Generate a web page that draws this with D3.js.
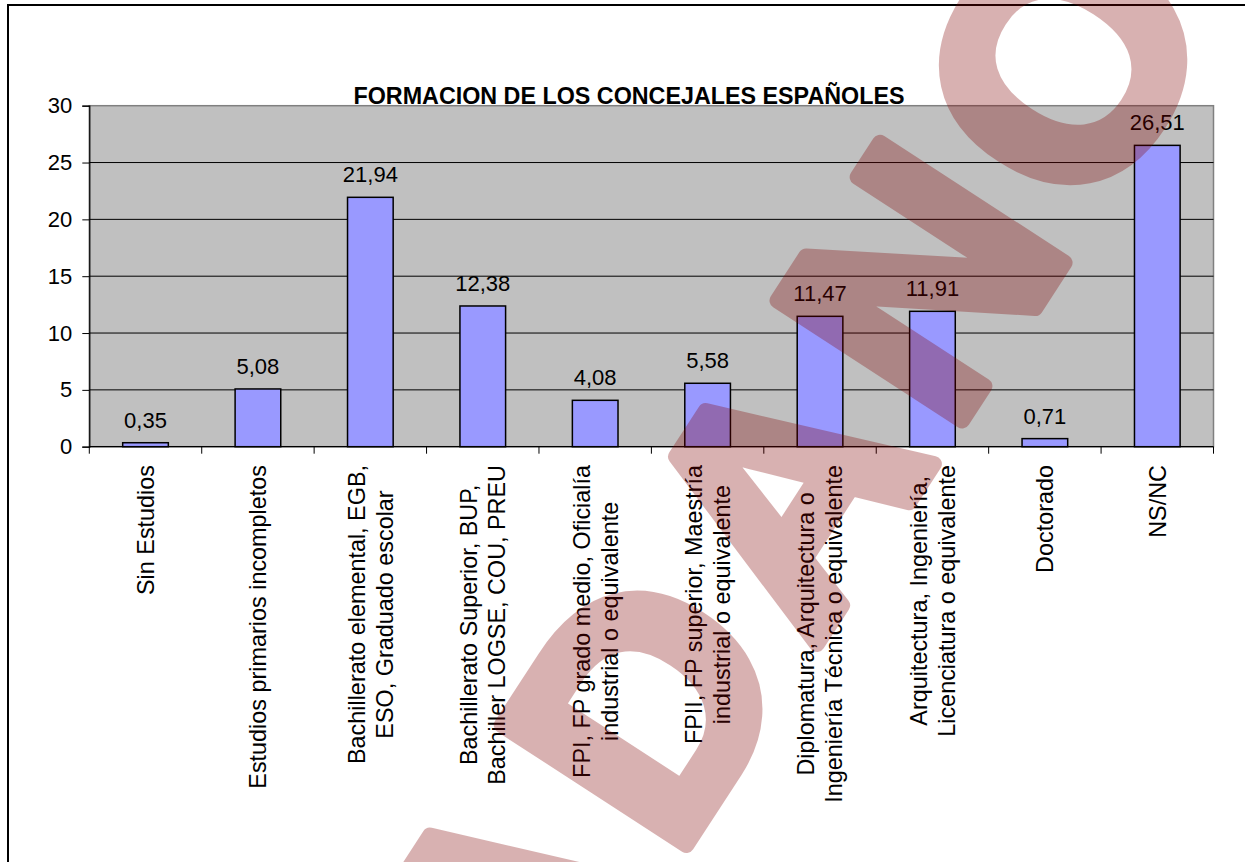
<!DOCTYPE html>
<html>
<head>
<meta charset="utf-8">
<script src="https://cdn.jsdelivr.net/npm/d3@7"></script>
<style>
  html, body { margin: 0; padding: 0; background: #fff; }
  svg { display: block; }
  text { font-family: Arial, "Liberation Sans", sans-serif; }
</style>
</head>
<body>
<script>
const categories = [
  "Sin Estudios",
  "Estudios primarios incompletos",
  "Bachillerato elemental, EGB,\nESO, Graduado escolar",
  "Bachillerato Superior, BUP,\nBachiller LOGSE, COU, PREU",
  "FPI, FP grado medio, Oficialía\nindustrial o equivalente",
  "FPII, FP superior, Maestría\nindustrial o equivalente",
  "Diplomatura, Arquitectura o\nIngeniería Técnica o equivalente",
  "Arquitectura, Ingeniería,\nLicenciatura o equivalente",
  "Doctorado",
  "NS/NC"
];
const values = [0.35, 5.08, 21.94, 12.38, 4.08, 5.58, 11.47, 11.91, 0.71, 26.51];
const yTicks = [0, 5, 10, 15, 20, 25, 30];
const title = "FORMACION DE LOS CONCEJALES ESPAÑOLES";
const watermark = "CIUDADANO";

const W = 1245, H = 862;
const plot = { left: 89.3, right: 1213.5, top: 105.7, bottom: 446.7 };

const svg = d3.select("body").append("svg").attr("width", W).attr("height", H);

// outer frame
svg.append("path")
  .attr("d", `M8,${H + 5}V5H${W + 5}`)
  .attr("fill", "none").attr("stroke", "#000").attr("stroke-width", 2);

const x = d3.scaleBand().domain(d3.range(categories.length))
  .range([plot.left, plot.right]).paddingInner(0.594).paddingOuter(0.297);
const xb = d3.scaleBand().domain(d3.range(categories.length))
  .range([plot.left, plot.right]);
const y = d3.scaleLinear().domain([0, 30]).range([plot.bottom, plot.top]);

// plot background
svg.append("rect")
  .attr("x", plot.left).attr("y", plot.top)
  .attr("width", plot.right - plot.left).attr("height", plot.bottom - plot.top)
  .attr("fill", "#C0C0C0").attr("stroke", "#808080").attr("stroke-width", 1.5);

// gridlines
svg.append("g").selectAll("line").data(yTicks.filter(d => d > 0 && d < 30)).join("line")
  .attr("x1", plot.left).attr("x2", plot.right)
  .attr("y1", d => y(d)).attr("y2", d => y(d))
  .attr("stroke", "#000").attr("stroke-width", 1);

// y axis
const yAxis = svg.append("g").attr("transform", `translate(${plot.left},0)`)
  .call(d3.axisLeft(y).tickValues(yTicks).tickSize(7).tickPadding(10).tickFormat(d3.format("d")));
yAxis.select(".domain").attr("stroke", "#000").attr("stroke-width", 1.2);
yAxis.selectAll(".tick line").attr("stroke", "#000");
yAxis.selectAll("text").attr("font-size", 22).attr("fill", "#000")
  .attr("font-family", "Arial, 'Liberation Sans', sans-serif");

// x axis
const xAxis = svg.append("g").attr("transform", `translate(0,${plot.bottom})`);
xAxis.append("line").attr("x1", plot.left).attr("x2", plot.right)
  .attr("stroke", "#000").attr("stroke-width", 1.2);
const bounds = d3.range(categories.length + 1).map(i => i < categories.length ? xb(i) : xb(i - 1) + xb.bandwidth());
xAxis.selectAll("line.tk").data(bounds).join("line").attr("class", "tk")
  .attr("x1", d => d).attr("x2", d => d).attr("y1", 0).attr("y2", 7)
  .attr("stroke", "#000").attr("stroke-width", 1);

// bars
svg.append("g").selectAll("rect").data(values).join("rect")
  .attr("x", (d, i) => x(i)).attr("width", x.bandwidth())
  .attr("y", d => y(d)).attr("height", d => y(0) - y(d))
  .attr("fill", "#9999FF").attr("stroke", "#000").attr("stroke-width", 1.5);

// data labels
const fmt = d => d3.format(".2f")(d).replace(".", ",");
svg.append("g").selectAll("text").data(values).join("text")
  .attr("x", (d, i) => x(i) + x.bandwidth() / 2)
  .attr("y", d => y(d) - 15)
  .attr("text-anchor", "middle").attr("font-size", 22).attr("fill", "#000")
  .text(d => fmt(d));

// category labels (rotated)
const catFont = 23.4, lineH = 28, labelTop = 465;
const measure = svg.append("text").attr("font-size", catFont).attr("visibility", "hidden");
categories.forEach((c, i) => {
  const lines = c.split("\n");
  const widths = lines.map(l => { measure.text(l); return measure.node().getComputedTextLength(); });
  const maxW = d3.max(widths);
  const cx = xb(i) + xb.bandwidth() / 2;
  const cy = labelTop + maxW / 2;
  const g = svg.append("g").attr("transform", `translate(${cx},${cy}) rotate(-90)`);
  lines.forEach((l, j) => {
    g.append("text")
      .attr("x", 0)
      .attr("y", (j - (lines.length - 1) / 2) * lineH)
      .attr("dy", "0.36em")
      .attr("text-anchor", "middle").attr("font-size", catFont).attr("fill", "#000")
      .text(l);
  });
});
measure.remove();

// title
svg.append("text")
  .attr("x", 629).attr("y", 104)
  .attr("text-anchor", "middle").attr("font-size", 23.3).attr("font-weight", "bold").attr("fill", "#000")
  .text(title);

// watermark
const wm = svg.append("g").attr("opacity", 0.3);
wm.append("text")
  .attr("transform", "translate(63,1805) rotate(-57)")
  .attr("font-family", "'Liberation Sans', Arial, sans-serif")
  .attr("font-weight", "bold").attr("font-size", 320)
  .attr("letter-spacing", 22)
  .attr("fill", "#800000").attr("stroke", "#800000").attr("stroke-width", 16)
  .attr("stroke-linejoin", "round")
  .text(watermark);
</script>
</body>
</html>
